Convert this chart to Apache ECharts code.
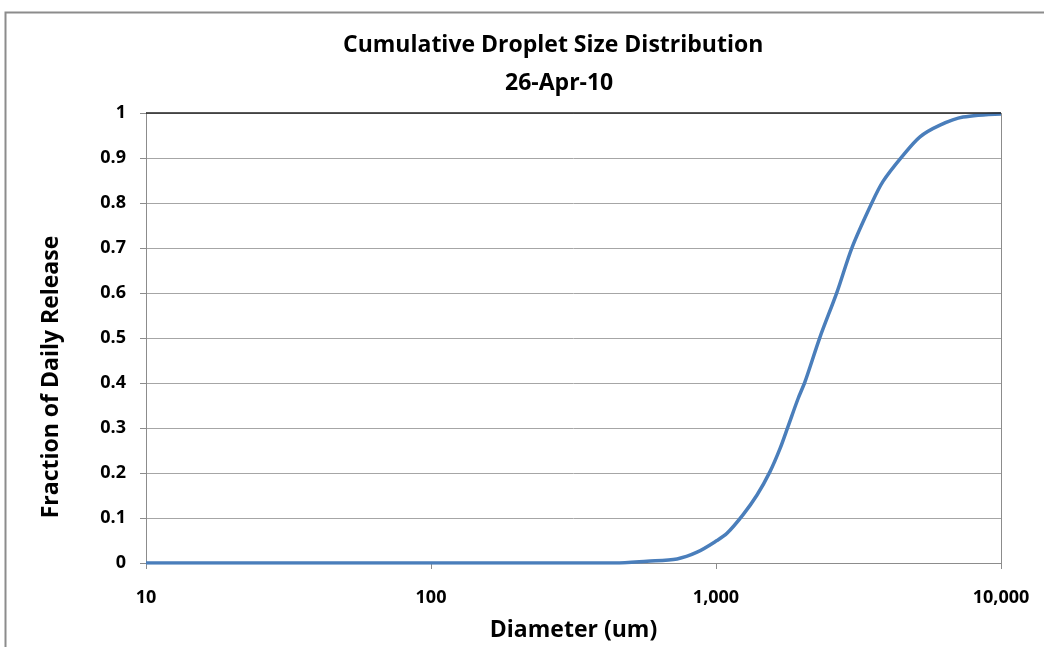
<!DOCTYPE html>
<html>
<head>
<meta charset="utf-8">
<script src="https://cdn.jsdelivr.net/npm/echarts@6/dist/echarts.min.js"></script>
<style>
html,body{margin:0;padding:0;background:#fff;}
#chart{width:1044px;height:647px;}
</style>
</head>
<body>
<div id="chart"></div>
<script>
var titleText = 'Cumulative Droplet Size Distribution';
var subtitleText = '26-Apr-10';
var xAxisName = 'Diameter (um)';
var yAxisName = 'Fraction of Daily Release';
var diameters = [10, 443, 573, 730, 858, 1008, 1093, 1243, 1393, 1547, 1677, 1789, 1940, 2053, 2317, 2658, 3001, 3527, 3855, 4494, 5197, 6109, 7358, 10000];
var fractions = [0, 0, 0.004, 0.009, 0.024, 0.05, 0.066, 0.107, 0.151, 0.203, 0.254, 0.303, 0.365, 0.403, 0.502, 0.602, 0.701, 0.801, 0.848, 0.903, 0.947, 0.973, 0.991, 0.998];

var FONT = '"Open Sans", sans-serif';
var chart = echarts.init(document.getElementById('chart'), null, {renderer: 'canvas'});
var pts = diameters.map(function (d, i) { return [d, fractions[i]]; });
chart.setOption({
  backgroundColor: '#fff',
  animation: false,
  graphic: [{
    type: 'rect', left: 3, top: 10,
    shape: {width: 1060, height: 660},
    style: {fill: 'none', stroke: '#8c8c8c', lineWidth: 2}
  }],
  title: [{
    text: titleText, left: 338, top: 29,
    textStyle: {fontFamily: FONT, fontSize: 23, fontWeight: 'bold', color: '#000'}
  }, {
    text: subtitleText, left: 500, top: 67,
    textStyle: {fontFamily: FONT, fontSize: 23, fontWeight: 'bold', color: '#000'}
  }],
  grid: {left: 146, right: 43, top: 113, bottom: 82, containLabel: false},
  xAxis: {
    type: 'log', logBase: 10, min: 10, max: 10000,
    name: xAxisName, nameLocation: 'middle', nameGap: 56,
    nameTextStyle: {fontFamily: FONT, fontSize: 23, fontWeight: 'bold', color: '#000'},
    axisLine: {show: true, lineStyle: {color: '#8c8c8c', width: 1}},
    axisTick: {show: true, inside: false, length: 6, lineStyle: {color: '#8c8c8c'}},
    minorTick: {show: false},
    splitLine: {show: false},
    axisLabel: {
      fontFamily: FONT, fontSize: 18, fontWeight: 'bold', color: '#000', margin: 26,
      formatter: function (v) { return Math.round(v).toLocaleString('en-US'); }
    }
  },
  yAxis: {
    type: 'value', min: 0, max: 1, interval: 0.1,
    name: yAxisName, nameLocation: 'middle', nameGap: 83, nameRotate: 90,
    nameTextStyle: {fontFamily: FONT, fontSize: 23, fontWeight: 'bold', color: '#000', padding: [0, 78, 0, 0]},
    axisLine: {show: true, lineStyle: {color: '#8c8c8c', width: 1}},
    axisTick: {show: true, inside: false, length: 6, lineStyle: {color: '#8c8c8c'}},
    splitLine: {show: true, lineStyle: {color: '#a6a6a6', width: 1}},
    axisLabel: {
      fontFamily: FONT, fontSize: 18, fontWeight: 'bold', color: '#000', margin: 20,
      formatter: function (v) { return String(Math.round(v * 10) / 10); }
    }
  },
  series: [{
    type: 'line', data: pts, showSymbol: false, smooth: 0.3,
    lineStyle: {color: '#4a7ebb', width: 3.5},
    markLine: {
      silent: true, symbol: 'none', label: {show: false},
      lineStyle: {color: '#222', width: 1.5, type: 'solid'},
      data: [{yAxis: 1}]
    }
  }, {
    type: 'line', data: [], showSymbol: false,
    markLine: {
      silent: true, symbol: 'none', label: {show: false},
      lineStyle: {color: '#8c8c8c', width: 1, type: 'solid'},
      data: [{xAxis: 10000}]
    }
  }]
});
</script>
</body>
</html>
